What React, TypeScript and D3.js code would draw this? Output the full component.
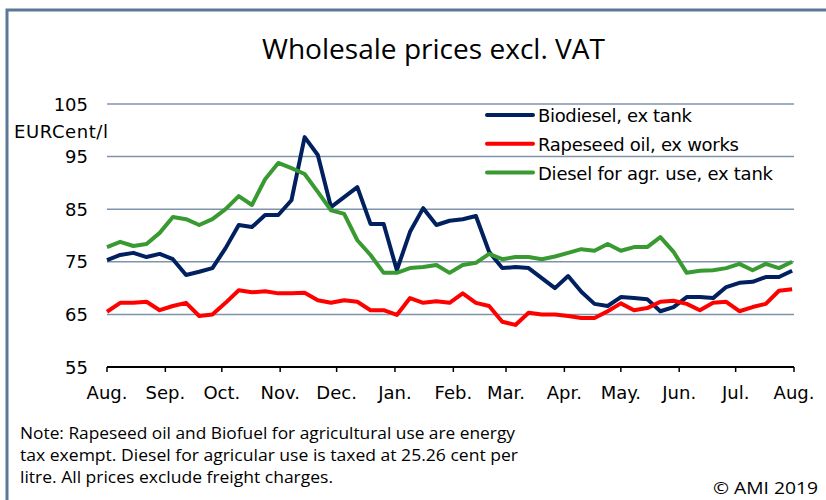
import React from "react";
import * as d3 from "d3";

const startDate = new Date(2018, 7, 1);
const endDate = new Date(2019, 7, 1);

const biodiesel = [75.3, 76.3, 76.7, 75.9, 76.5, 75.5, 72.5, 73.1, 73.8, 77.6, 82.0, 81.6, 83.9, 83.9, 86.7, 98.7, 95.3, 85.4, 87.3, 89.2, 82.2, 82.2, 73.4, 80.7, 85.2, 82.0, 82.8, 83.1, 83.7, 76.9, 73.8, 74.0, 73.8, 71.9, 70.0, 72.3, 69.3, 67.0, 66.6, 68.3, 68.1, 67.9, 65.6, 66.4, 68.3, 68.3, 68.1, 70.2, 71.0, 71.2, 72.1, 72.1, 73.3];
const rapeseed = [65.5, 67.2, 67.2, 67.4, 65.8, 66.6, 67.2, 64.7, 65.0, 67.2, 69.6, 69.2, 69.4, 69.0, 69.0, 69.1, 67.7, 67.2, 67.7, 67.4, 65.8, 65.8, 64.9, 68.1, 67.2, 67.5, 67.2, 69.0, 67.2, 66.6, 63.6, 63.0, 65.3, 65.0, 65.0, 64.7, 64.3, 64.3, 65.6, 67.1, 65.8, 66.2, 67.4, 67.6, 67.0, 65.8, 67.2, 67.4, 65.6, 66.4, 67.0, 69.5, 69.8];
const diesel = [77.8, 78.8, 78.0, 78.4, 80.5, 83.5, 83.1, 82.0, 83.1, 85.0, 87.5, 85.8, 90.7, 93.8, 92.8, 91.7, 88.3, 84.8, 84.1, 79.1, 76.3, 72.9, 72.9, 73.8, 74.0, 74.4, 72.9, 74.4, 74.8, 76.5, 75.5, 75.9, 75.9, 75.5, 76.0, 76.7, 77.4, 77.1, 78.4, 77.1, 77.8, 77.8, 79.7, 76.9, 72.9, 73.3, 73.4, 73.8, 74.6, 73.4, 74.6, 73.8, 75.0];

const seriesNames = ["Biodiesel, ex tank", "Rapeseed oil, ex works", "Diesel for agr. use, ex tank"];
const seriesColors = ["#00205f", "#ff0000", "#3a9a32"];
const yTicks = [55, 65, 75, 85, 95, 105];
const monthLabels = ["Aug.", "Sep.", "Oct.", "Nov.", "Dec.", "Jan.", "Feb.", "Mar.", "Apr.", "May.", "Jun.", "Jul.", "Aug."];
const title = "Wholesale prices excl. VAT";
const unitLabel = "EURCent/l";
const noteLines = [
  "Note: Rapeseed oil and Biofuel for agricultural use are energy",
  "tax exempt. Diesel for agricular use is taxed at 25.26 cent per",
  "litre.  All prices exclude freight charges.",
];
const copyright = "© AMI 2019";

const dates = biodiesel.map((_, i) => d3.timeDay.offset(startDate, i * 7));
const monthTicks = d3.timeMonth.range(startDate, d3.timeDay.offset(endDate, 1));

export default function App() {
  const W = 826, H = 500;
  const left = 107, right = 794, top = 104, bottom = 367;
  const x = d3.scaleTime().domain([startDate, endDate]).range([left, right]);
  const y = d3.scaleLinear().domain([55, 105]).range([bottom, top]);
  const line = d3.line<number>().x((_, i) => x(dates[i])).y((d) => y(d));
  const all = [biodiesel, rapeseed, diesel];
  const axisFont = "DejaVu Sans, Verdana, sans-serif";
  const narrowFont = "'Open Sans', Roboto, sans-serif";
  const legendLens = [154, 201, 235];
  const noteLens = [495, 498, 313];
  return (
    <svg width={W} height={H} style={{ position: "absolute", left: 0, top: 0, background: "#fff" }}>
      <rect x={7} y={10} width={W + 20} height={H + 20} fill="#fff" stroke="#5b7896" strokeWidth={3} />
      <text x={262} y={59} textLength={343} lengthAdjust="spacingAndGlyphs" fontFamily={narrowFont} fontSize={27} fill="#000">{title}</text>
      {yTicks.slice(1).map((t) => (
        <line key={t} x1={left} x2={right} y1={y(t)} y2={y(t)} stroke="#7f93ab" strokeWidth={1.5} />
      ))}
      {yTicks.map((t) => (
        <text key={t} x={88} y={y(t) + 6.5} textAnchor="end" fontFamily={axisFont} fontSize={18} fill="#000">{t}</text>
      ))}
      <text x={14} y={138} textLength={94} fontFamily={axisFont} fontSize={18} fill="#000">{unitLabel}</text>
      {all.map((s, k) => (
        <path key={k} d={line(s) || ""} fill="none" stroke={seriesColors[k]} strokeWidth={4} strokeLinejoin="round" />
      ))}
      <line x1={left} x2={right} y1={bottom} y2={bottom} stroke="#000" strokeWidth={2} />
      {monthTicks.map((m, i) => (
        <g key={i}>
          <line x1={x(m)} x2={x(m)} y1={bottom} y2={bottom + 5} stroke="#000" strokeWidth={1.5} />
          <text x={x(m)} y={bottom + 32} textAnchor="middle" fontFamily={axisFont} fontSize={18} fill="#000">{monthLabels[i]}</text>
        </g>
      ))}
      {seriesNames.map((n, k) => (
        <g key={n}>
          <line x1={487} x2={533} y1={115 + k * 28.8} y2={115 + k * 28.8} stroke={seriesColors[k]} strokeWidth={4} strokeLinecap="round" />
          <text x={538} y={122 + k * 28.8} textLength={legendLens[k]} fontFamily={axisFont} fontSize={18} fill="#000">{n}</text>
        </g>
      ))}
      {noteLines.map((l, i) => (
        <text key={i} x={20} y={439 + i * 22} textLength={noteLens[i]} lengthAdjust="spacingAndGlyphs" fontFamily={narrowFont} fontSize={17} fill="#000">{l}</text>
      ))}
      <text x={713} y={494} textLength={105} lengthAdjust="spacingAndGlyphs" fontFamily={narrowFont} fontSize={17} fill="#000">{copyright}</text>
    </svg>
  );
}
